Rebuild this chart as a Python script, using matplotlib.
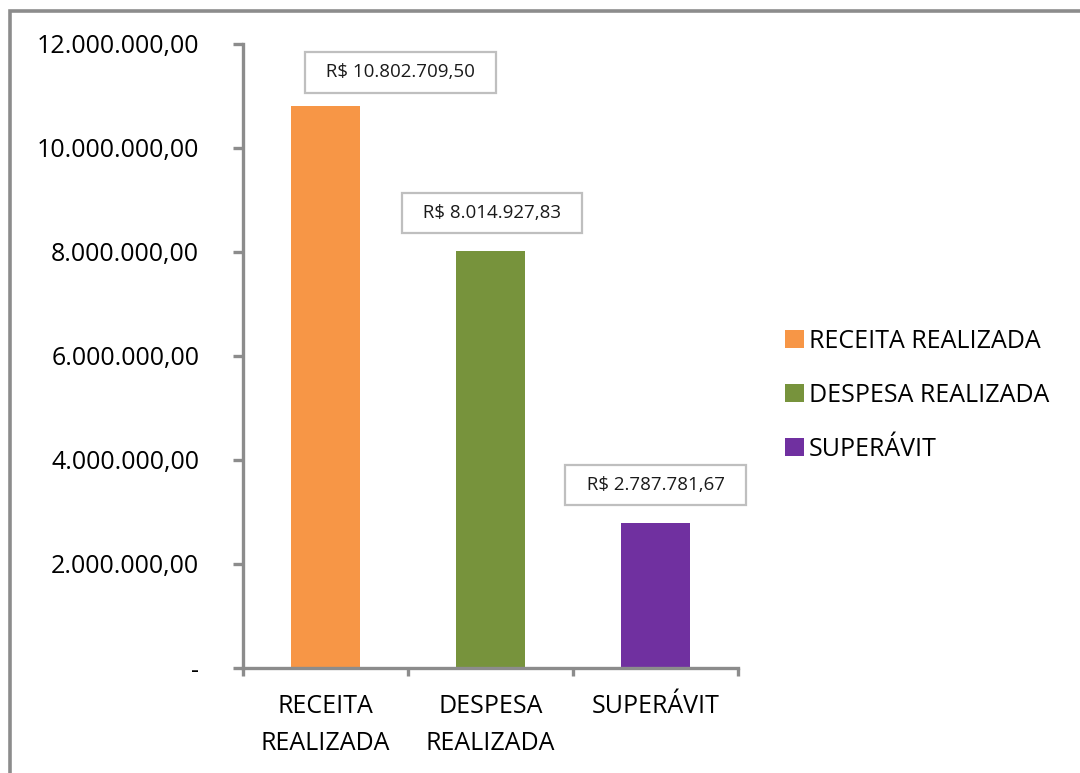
import matplotlib
matplotlib.use("Agg")
import matplotlib.pyplot as plt
from matplotlib.patches import Patch, Rectangle

categories = ["RECEITA\nREALIZADA", "DESPESA\nREALIZADA", "SUPERÁVIT"]
series_names = ["RECEITA REALIZADA", "DESPESA REALIZADA", "SUPERÁVIT"]
values = [10802709.50, 8014927.83, 2787781.67]
value_labels = ["R$ 10.802.709,50", "R$ 8.014.927,83", "R$ 2.787.781,67"]
ytick_values = [0, 2000000, 4000000, 6000000, 8000000, 10000000, 12000000]
ytick_labels = ["-", "2.000.000,00", "4.000.000,00", "6.000.000,00",
                "8.000.000,00", "10.000.000,00", "12.000.000,00"]
colors = ["#F79646", "#77933C", "#7030A0"]
label_offsets = [(54, 18), (1, 21), (0, 21)]  # points

plt.rcParams['font.family'] = ['Open Sans', 'DejaVu Sans']

W, H = 1080, 773
fig = plt.figure(figsize=(W / 100, H / 100), dpi=100)

# outer frame
fig.patches.append(Rectangle((9.5 / W, -0.1), 1.2, 1.1 - 11.5 / H,
                             transform=fig.transFigure, fill=False,
                             edgecolor="#8c8c8c", linewidth=2.6, zorder=0))

ax = fig.add_axes([243 / W, 1 - 668 / H, (738 - 243) / W, (668 - 44) / H])
gray = "#8c8c8c"

x = [i + 0.5 for i in range(len(values))]
ax.bar(x, values, width=0.42, color=colors, zorder=2)

ax.set_xlim(0, 3)
ax.set_ylim(0, 12000000)
ax.set_yticks(ytick_values)
ax.set_yticklabels(ytick_labels, fontsize=18)
ax.set_xticks(x)
ax.set_xticklabels(categories, fontsize=18, linespacing=1.6)
ax.set_xticks([0, 1, 2, 3], minor=True)

for s in ["top", "right"]:
    ax.spines[s].set_visible(False)
for s in ["left", "bottom"]:
    ax.spines[s].set_color(gray)
    ax.spines[s].set_linewidth(2.4)

ax.tick_params(axis="y", which="major", direction="out", length=7.5,
               width=2.4, color=gray, pad=24)
ax.tick_params(axis="x", which="major", length=0, pad=19)
ax.tick_params(axis="x", which="minor", direction="out", length=5.5,
               width=2.4, color=gray)

for xi, v, lab, off in zip(x, values, value_labels, label_offsets):
    ax.annotate("  " + lab + "  ", xy=(xi, v), xytext=off, textcoords="offset points",
                ha="center", va="bottom", fontsize=13.5, color="#1a1a1a",
                bbox=dict(boxstyle="square,pad=0.6", facecolor="white",
                          edgecolor="#bfbfbf", linewidth=1.6), zorder=3)

handles = [Patch(facecolor=c, edgecolor="none") for c in colors]
fig.legend(handles, series_names, loc="upper left",
           bbox_to_anchor=(785 / W, 1 - 329 / H), frameon=False,
           fontsize=18, handlelength=0.75, handleheight=0.75,
           handletextpad=0.2, labelspacing=1.15, borderpad=0, borderaxespad=0)

fig.savefig("out.png", dpi=100)
